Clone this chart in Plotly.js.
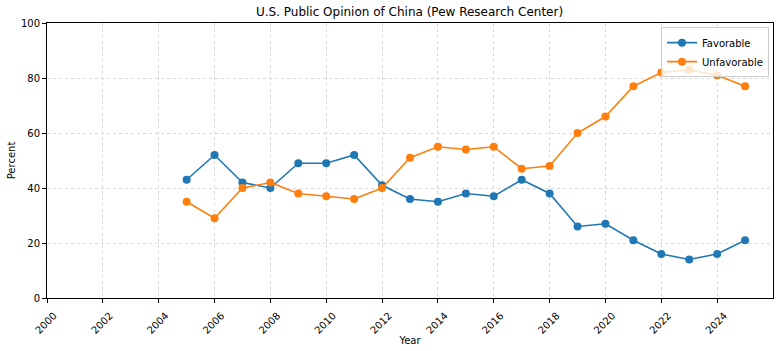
<!DOCTYPE html>
<html>
<head>
<meta charset="utf-8">
<script src="https://cdn.plot.ly/plotly-3.0.1.min.js"></script>
<style>html,body{margin:0;padding:0;background:#fff;}#chart{width:780px;height:351px;}</style>
</head>
<body>
<div id="chart"></div>
<script>
const years = [2005,2006,2007,2008,2009,2010,2011,2012,2013,2014,2015,2016,2017,2018,2019,2020,2021,2022,2023,2024,2025];
const favorable = [43,52,42,40,49,49,52,41,36,35,38,37,43,38,26,27,21,16,14,16,21];
const unfavorable = [35,29,40,42,38,37,36,40,51,55,54,55,47,48,60,66,77,82,83,81,77];
const tickYears = [2000,2002,2004,2006,2008,2010,2012,2014,2016,2018,2020,2022,2024];

const traces = [
  {x: years, y: favorable, name: 'Favorable', type: 'scatter', mode: 'lines+markers',
   line: {color: '#1f77b4', width: 1.6}, marker: {color: '#1f77b4', size: 8}},
  {x: years, y: unfavorable, name: 'Unfavorable', type: 'scatter', mode: 'lines+markers',
   line: {color: '#ff7f0e', width: 1.6}, marker: {color: '#ff7f0e', size: 8}}
];

const axisCommon = {
  showline: true, linecolor: '#000', linewidth: 1, mirror: true,
  ticks: 'outside', ticklen: 4, tickcolor: '#000',
  showgrid: true, gridcolor: '#d9d9d9', griddash: 'dot', gridwidth: 1,
  zeroline: false,
  tickfont: {family: 'DejaVu Sans', size: 10, color: '#000'}
};

const layout = {
  width: 780, height: 351,
  margin: {l: 47, r: 7, t: 23, b: 53},
  paper_bgcolor: '#fff', plot_bgcolor: '#fff',
  font: {family: 'DejaVu Sans', color: '#000'},
  title: {text: 'U.S. Public Opinion of China (Pew Research Center)', x: 0.525, xanchor: 'center', y: 0.965, yanchor: 'middle',
          font: {family: 'DejaVu Sans', size: 12, color: '#000'}},
  xaxis: Object.assign({}, axisCommon, {
    range: [2000, 2026], tickvals: tickYears, ticktext: tickYears.map(String), tickangle: -45,
    ticklabelshift: 7, ticklabelstandoff: 3,
    title: {text: 'Year', font: {family: 'DejaVu Sans', size: 10}, standoff: 2}
  }),
  yaxis: Object.assign({}, axisCommon, {
    range: [0, 100], tickvals: [0,20,40,60,80,100],
    title: {text: 'Percent', font: {family: 'DejaVu Sans', size: 10}, standoff: 3}
  }),
  legend: {x: 0.9945, y: 0.985, xanchor: 'right', yanchor: 'top',
           bgcolor: 'rgba(255,255,255,0.8)', bordercolor: '#ccc', borderwidth: 1,
           font: {family: 'DejaVu Sans', size: 10}, tracegroupgap: 0, itemwidth: 30},
  showlegend: true
};

Plotly.newPlot('chart', traces, layout, {displayModeBar: false, staticPlot: true});
</script>
</body>
</html>
